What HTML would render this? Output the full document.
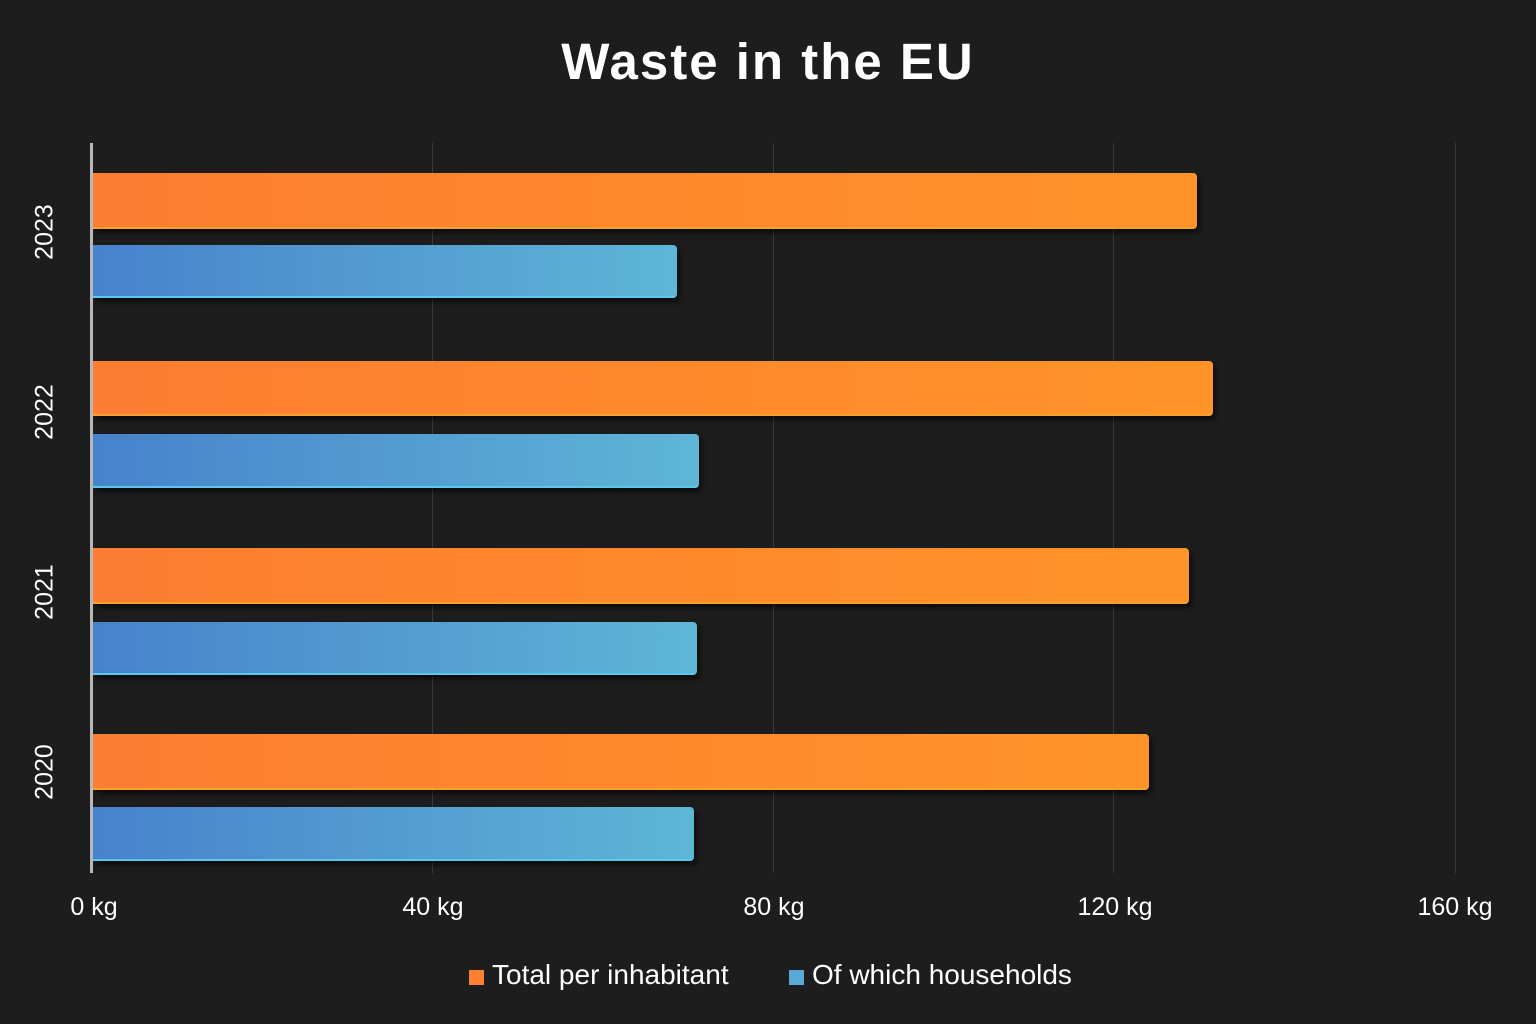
<!DOCTYPE html>
<html><head><meta charset="utf-8"><style>
html,body{margin:0;padding:0;background:#1e1d1d;}
#c{position:relative;width:1536px;height:1024px;background:#1e1d1d;font-family:"Liberation Sans",sans-serif;color:#fff;overflow:hidden}
.t{position:absolute;top:32px;left:0;width:1536px;text-align:center;font-size:51px;font-weight:bold;letter-spacing:2px}
.g{position:absolute;top:143px;height:730px;width:1px;background:#3a3a3a}
.ax{position:absolute;left:90px;top:143px;width:3px;height:730px;background:#b8b8b8}
.o,.b{position:absolute;left:93px;border-radius:0 4px 4px 0;box-shadow:3px 4px 6px rgba(0,0,0,.6)}
.o{background:linear-gradient(90deg,#fd7d32,#fe9428);border-bottom:2px solid #f6a22a}
.b{background:linear-gradient(90deg,#4782cc,#5eb6d6);border-bottom:2px solid #5ac8ea}
.xl{position:absolute;top:893px;font-size:25px;width:120px;text-align:center;margin-left:-60px}
.yl{position:absolute;left:45px;font-size:25px;transform:translate(-50%,-50%) rotate(-90deg)}
.lg{position:absolute;top:959px;font-size:28px}
.sq{display:inline-block;width:15px;height:15px;margin-right:8px;vertical-align:-1px}
</style></head><body><div id="c">
<div class="t">Waste in the EU</div>
<div class="g" style="left:432px"></div>
<div class="g" style="left:773px"></div>
<div class="g" style="left:1113px"></div>
<div class="g" style="left:1455px"></div>
<div class="o" style="top:173px;height:54px;width:1104px"></div>
<div class="b" style="top:245px;height:51px;width:584px"></div>
<div class="o" style="top:361px;height:53px;width:1120px"></div>
<div class="b" style="top:434px;height:52px;width:606px"></div>
<div class="o" style="top:548px;height:54px;width:1096px"></div>
<div class="b" style="top:622px;height:51px;width:604px"></div>
<div class="o" style="top:734px;height:54px;width:1056px"></div>
<div class="b" style="top:807px;height:52px;width:601px"></div>
<div class="ax"></div>
<div class="yl" style="top:232px">2023</div>
<div class="yl" style="top:412px">2022</div>
<div class="yl" style="top:592px">2021</div>
<div class="yl" style="top:772px">2020</div>
<div class="xl" style="left:94px">0 kg</div>
<div class="xl" style="left:433px">40 kg</div>
<div class="xl" style="left:774px">80 kg</div>
<div class="xl" style="left:1115px">120 kg</div>
<div class="xl" style="left:1455px">160 kg</div>
<div class="lg" style="left:469px"><span class="sq" style="background:#fd8030"></span>Total per inhabitant</div>
<div class="lg" style="left:789px"><span class="sq" style="background:#5aa8d6"></span>Of which households</div>
</div></body></html>
